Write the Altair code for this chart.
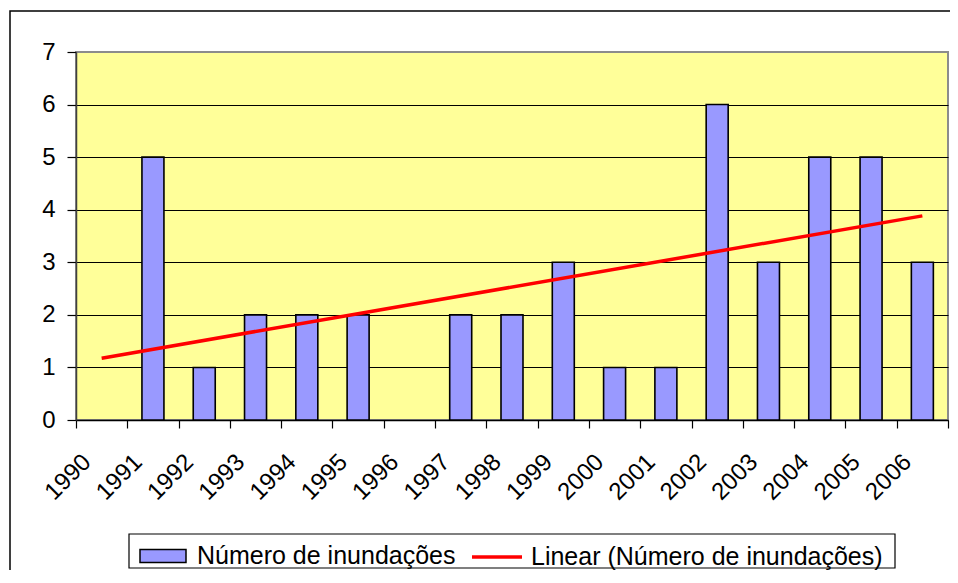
import altair as alt
import pandas as pd

# ---- data ----
years = list(range(1990, 2007))
floods = [0, 5, 1, 2, 2, 2, 0, 2, 2, 3, 1, 1, 6, 3, 5, 5, 3]
series_bar = "Número de inundações"
series_line = "Linear (Número de inundações)"
y_ticks = [0, 1, 2, 3, 4, 5, 6, 7]
x_boundaries = [y - 0.5 for y in years] + [years[-1] + 0.5]

df = pd.DataFrame({"year": years, "value": floods})
frame_df = pd.DataFrame({"k": [0]})

FONT = "Liberation Sans"

xscale = alt.Scale(domain=[1989.5, 2006.5], nice=False, zero=False, padding=0)
yscale = alt.Scale(domain=[0, 7], nice=False, zero=True, padding=0)

y_axis = alt.Axis(
    values=y_ticks, title=None, format="d",
    grid=True,
    gridColor={"condition": {"test": "datum.value === 7", "value": "#8c8c8c"}, "value": "black"},
    gridWidth=1.2,
    tickSize=9, tickColor="black", tickWidth=1.2,
    domainColor="#404040", domainWidth=1.5,
    labelFont=FONT, labelFontSize=24, labelColor="black", labelPadding=12,
)

tick_axis = alt.Axis(
    orient="bottom", values=x_boundaries, labels=False, title=None, grid=False,
    tickSize=8, tickColor="black", tickWidth=1.2,
    domainColor="black", domainWidth=1.5,
)

label_axis = alt.Axis(
    orient="bottom", values=years, format="d", title=None, grid=False,
    ticks=False, domain=False,
    labelAngle=-45, labelAlign="right", labelBaseline="middle",
    labelPadding=38, labelOffset=-15,
    labelFont=FONT, labelFontSize=24, labelColor="black",
    labelOverlap=False,
)

bar_legend = alt.Legend(
    title=None, orient="none", legendX=61, legendY=478, direction="horizontal",
    padding=0, labelFont=FONT, labelFontSize=25, labelColor="black", labelLimit=0,
    symbolType="M-0.92,-0.26H0.92V0.26H-0.92Z", symbolSize=2500,
    symbolStrokeColor="black", symbolStrokeWidth=1.5, symbolOpacity=1,
    labelOffset=8,
)

line_legend = alt.Legend(
    title=None, orient="none", legendX=394, legendY=478, direction="horizontal",
    padding=0, labelFont=FONT, labelFontSize=25, labelColor="black", labelLimit=0,
    symbolType="M-1,0H1", symbolSize=2500,
    symbolStrokeWidth=3.5, symbolOpacity=1,
    labelOffset=7,
)

# outer chart-area frame (its right and bottom edges lie outside the picture)
frame = alt.Chart(frame_df).mark_rect(
    fill="transparent", stroke="black", strokeWidth=1.5
).encode(
    x=alt.value(-66), x2=alt.value(3000), y=alt.value(-41), y2=alt.value(3000)
)

legend_box = alt.Chart(frame_df).mark_rect(
    fill="transparent", stroke="black", strokeWidth=1.2
).encode(
    x=alt.value(53), x2=alt.value(819), y=alt.value(482), y2=alt.value(516)
)

bars = alt.Chart(df).transform_filter(
    "datum.value > 0"
).transform_calculate(
    s=f"'{series_bar}'"
).mark_bar(size=22, stroke="black", strokeWidth=1.6).encode(
    x=alt.X("year:Q", scale=xscale, axis=tick_axis),
    y=alt.Y("value:Q", scale=yscale, axis=y_axis),
    fill=alt.Fill("s:N", scale=alt.Scale(domain=[series_bar], range=["#9999FF"]),
                  legend=bar_legend),
)

trend = alt.Chart(df).transform_regression(
    "year", "value"
).transform_calculate(
    t=f"'{series_line}'"
).mark_line(strokeWidth=3.5).encode(
    x=alt.X("year:Q", scale=xscale, axis=label_axis),
    y=alt.Y("value:Q", scale=yscale),
    stroke=alt.Stroke("t:N", scale=alt.Scale(domain=[series_line], range=["#FF0000"]),
                      legend=line_legend),
)

chart = alt.layer(frame, legend_box, bars, trend).resolve_axis(x="independent").properties(
    width=872, height=368,
    autosize=alt.AutoSizeParams(type="none"),
    padding={"left": 68, "top": 44, "right": 2, "bottom": 150},
    background="white",
).configure(
    font=FONT
).configure_view(
    fill="#FFFF99", stroke="#8c8c8c", strokeWidth=2
)

chart.save("out.html", embed_options={"renderer": "svg", "actions": False})
